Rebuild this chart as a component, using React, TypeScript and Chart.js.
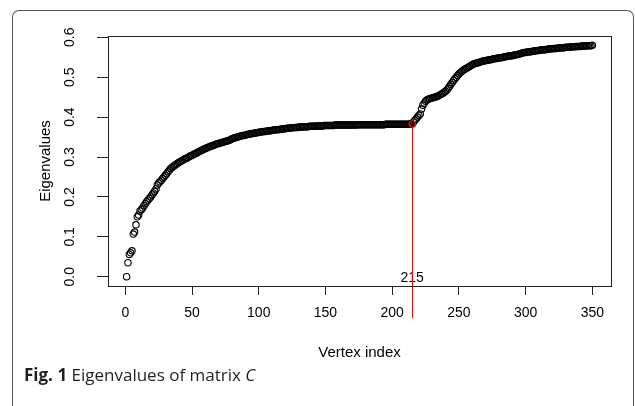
import React, { useEffect, useRef } from "react";
import { Chart, registerables } from "chart.js";

Chart.register(...registerables);

// Eigenvalues of matrix C, sorted ascending (vertex index 1..350)
const eigenvalues: number[] = [
  0.000, 0.035, 0.056, 0.060, 0.065, 0.107, 0.112, 0.130, 0.150, 0.155,
  0.165, 0.168, 0.172, 0.178, 0.183, 0.188, 0.192, 0.196, 0.200, 0.205,
  0.210, 0.214, 0.220, 0.230, 0.235, 0.238, 0.242, 0.246, 0.250, 0.254,
  0.258, 0.263, 0.267, 0.271, 0.274, 0.277, 0.279, 0.281, 0.284, 0.286,
  0.288, 0.290, 0.292, 0.294, 0.296, 0.297, 0.299, 0.301, 0.303, 0.304,
  0.306, 0.308, 0.309, 0.311, 0.313, 0.315, 0.316, 0.318, 0.320, 0.321,
  0.323, 0.324, 0.326, 0.327, 0.328, 0.329, 0.331, 0.332, 0.333, 0.334,
  0.335, 0.336, 0.337, 0.338, 0.339, 0.340, 0.341, 0.342, 0.344, 0.346,
  0.347, 0.348, 0.349, 0.350, 0.351, 0.352, 0.353, 0.354, 0.354, 0.355,
  0.356, 0.357, 0.357, 0.358, 0.359, 0.359, 0.360, 0.361, 0.361, 0.362,
  0.362, 0.363, 0.363, 0.364, 0.364, 0.365, 0.365, 0.366, 0.366, 0.367,
  0.367, 0.368, 0.368, 0.368, 0.369, 0.369, 0.370, 0.370, 0.371, 0.371,
  0.372, 0.372, 0.372, 0.373, 0.373, 0.373, 0.374, 0.374, 0.374, 0.375,
  0.375, 0.375, 0.375, 0.376, 0.376, 0.376, 0.376, 0.377, 0.377, 0.377,
  0.377, 0.377, 0.378, 0.378, 0.378, 0.378, 0.378, 0.378, 0.379, 0.379,
  0.379, 0.379, 0.379, 0.379, 0.379, 0.379, 0.380, 0.380, 0.380, 0.380,
  0.380, 0.380, 0.380, 0.380, 0.380, 0.380, 0.380, 0.380, 0.380, 0.380,
  0.380, 0.380, 0.380, 0.381, 0.381, 0.381, 0.381, 0.381, 0.381, 0.381,
  0.381, 0.381, 0.381, 0.381, 0.381, 0.381, 0.381, 0.381, 0.381, 0.381,
  0.381, 0.381, 0.381, 0.381, 0.382, 0.382, 0.382, 0.382, 0.382, 0.382,
  0.382, 0.382, 0.382, 0.382, 0.382, 0.382, 0.382, 0.382, 0.382, 0.382,
  0.382, 0.382, 0.383, 0.383, 0.383, 0.388, 0.392, 0.396, 0.400, 0.404,
  0.408, 0.420, 0.430, 0.435, 0.440, 0.443, 0.445, 0.446, 0.447, 0.448,
  0.449, 0.450, 0.451, 0.452, 0.454, 0.456, 0.458, 0.460, 0.462, 0.465,
  0.468, 0.472, 0.477, 0.482, 0.487, 0.492, 0.496, 0.500, 0.504, 0.508,
  0.511, 0.514, 0.517, 0.519, 0.521, 0.523, 0.525, 0.527, 0.529, 0.531,
  0.533, 0.534, 0.535, 0.536, 0.537, 0.538, 0.539, 0.540, 0.541, 0.542,
  0.542, 0.543, 0.544, 0.544, 0.545, 0.546, 0.546, 0.547, 0.548, 0.548,
  0.549, 0.549, 0.550, 0.551, 0.551, 0.552, 0.553, 0.553, 0.554, 0.554,
  0.555, 0.556, 0.556, 0.557, 0.558, 0.559, 0.560, 0.561, 0.562, 0.562,
  0.563, 0.563, 0.564, 0.564, 0.565, 0.565, 0.566, 0.566, 0.567, 0.567,
  0.568, 0.568, 0.569, 0.569, 0.569, 0.570, 0.570, 0.571, 0.571, 0.571,
  0.572, 0.572, 0.572, 0.573, 0.573, 0.573, 0.574, 0.574, 0.574, 0.575,
  0.575, 0.575, 0.575, 0.576, 0.576, 0.576, 0.576, 0.577, 0.577, 0.577,
  0.577, 0.578, 0.578, 0.578, 0.578, 0.579, 0.579, 0.579, 0.579, 0.580,
];

const xTicks: number[] = [0, 50, 100, 150, 200, 250, 300, 350];
const yTicks: number[] = [0, 0.1, 0.2, 0.3, 0.4, 0.5, 0.6];
const yTickLabels: string[] = ["0.0", "0.1", "0.2", "0.3", "0.4", "0.5", "0.6"];
const markedVertex = 215;

const xTitle = "Vertex index";
const yTitle = "Eigenvalues";

const FONT = "'Liberation Sans', Arial, Helvetica, sans-serif";

export default function App() {
  const ref = useRef<HTMLCanvasElement>(null);

  useEffect(() => {
    const canvas = ref.current;
    if (!canvas) return;
    const points = eigenvalues.map((v, i) => ({ x: i + 1, y: v }));
    const markValue = eigenvalues[markedVertex - 1];
    const n = eigenvalues.length;
    const ymax = Math.max(...eigenvalues);
    const ymin = Math.min(...eigenvalues);
    const xPad = (n - 1) * 0.04;
    const yPad = (ymax - ymin) * 0.04;

    const framePlugin = {
      id: "rframe",
      beforeDatasetsDraw(chart: any) {
        const { ctx, scales } = chart;
        const x = scales.x.getPixelForValue(markedVertex);
        const y = scales.y.getPixelForValue(0);
        ctx.save();
        ctx.fillStyle = "#000";
        ctx.font = `14px ${FONT}`;
        ctx.textAlign = "center";
        ctx.textBaseline = "middle";
        ctx.fillText(String(markedVertex), x, y + 1);
        ctx.restore();
      },
      afterDatasetsDraw(chart: any) {
        const { ctx, scales, chartArea } = chart;
        const x = Math.round(scales.x.getPixelForValue(markedVertex)) + 0.5;
        const y = scales.y.getPixelForValue(markValue);
        ctx.save();
        ctx.strokeStyle = "#ff0000";
        ctx.lineWidth = 1;
        ctx.beginPath();
        ctx.moveTo(x, y + 3);
        ctx.lineTo(x, chartArea.bottom + 32);
        ctx.stroke();
        ctx.strokeStyle = "#222";
        ctx.strokeRect(
          Math.round(chartArea.left) + 0.5,
          Math.round(chartArea.top) + 0.5,
          Math.round(chartArea.right - chartArea.left),
          Math.round(chartArea.bottom - chartArea.top)
        );
        ctx.restore();
      },
    };

    const chart = new Chart(canvas, {
      type: "scatter",
      data: {
        datasets: [
          {
            label: "marked",
            data: [{ x: markedVertex, y: markValue }],
            pointRadius: 3.2,
            pointBorderWidth: 1.1,
            borderColor: "#ff0000",
            backgroundColor: "rgba(0,0,0,0)",
            order: 0,
          },
          {
            label: "eigenvalues",
            data: points,
            pointRadius: 3.2,
            pointBorderWidth: 1.1,
            borderColor: "#000",
            backgroundColor: "rgba(0,0,0,0)",
            order: 1,
          },
        ],
      },
      options: {
        animation: false,
        responsive: false,
        devicePixelRatio: 1,
        layout: { padding: { top: 36, right: 24, left: 0, bottom: 0 } },
        plugins: {
          legend: { display: false },
          tooltip: { enabled: false },
        },
        scales: {
          x: {
            type: "linear",
            min: 1 - xPad,
            max: n + xPad,
            afterBuildTicks: (s: any) => {
              s.ticks = xTicks.map((v) => ({ value: v }));
            },
            afterFit: (s: any) => {
              s.height = 120;
            },
            grid: {
              drawOnChartArea: false,
              drawTicks: true,
              tickLength: 9,
              color: "#222",
              lineWidth: 1,
            },
            border: { display: true, color: "#222" },
            ticks: {
              padding: 10,
              color: "#000",
              font: { family: FONT, size: 14 },
              maxRotation: 0,
              autoSkip: false,
              callback: (v: any) => String(v),
            },
            title: {
              display: true,
              text: xTitle,
              color: "#000",
              font: { family: FONT, size: 15 },
              padding: { top: 0, bottom: 44 },
            },
          },
          y: {
            type: "linear",
            min: ymin - yPad,
            max: ymax + yPad,
            afterBuildTicks: (s: any) => {
              s.ticks = yTicks.map((v) => ({ value: v }));
            },
            afterFit: (s: any) => {
              s.width = 108;
            },
            grid: {
              drawOnChartArea: false,
              drawTicks: true,
              tickLength: 11,
              color: "#222",
              lineWidth: 1,
            },
            border: { display: true, color: "#222" },
            ticks: {
              padding: 17,
              color: "#000",
              font: { family: FONT, size: 14 },
              minRotation: 90,
              maxRotation: 90,
              crossAlign: "center",
              autoSkip: false,
              callback: (v: any) => {
                const idx = yTicks.findIndex((t) => Math.abs(t - v) < 1e-9);
                return idx >= 0 ? yTickLabels[idx] : "";
              },
            },
            title: {
              display: true,
              text: yTitle,
              color: "#000",
              font: { family: FONT, size: 15 },
              padding: { top: 37, bottom: 0 },
            },
          },
        },
      },
      plugins: [framePlugin],
    } as any);

    return () => chart.destroy();
  }, []);

  return (
    <div
      style={{
        position: "absolute",
        left: 0,
        top: 0,
        width: 635,
        height: 406,
        overflow: "hidden",
        background: "#fff",
      }}
    >
      <div
        style={{
          position: "absolute",
          left: 12,
          top: 10,
          width: 622,
          height: 460,
          borderTop: "1px solid #555",
          borderLeft: "1px solid #555",
          borderRight: "1px solid #555",
          borderTopLeftRadius: 7,
          borderTopRightRadius: 7,
          boxSizing: "border-box",
        }}
      />
      <canvas
        ref={ref}
        width={635}
        height={406}
        style={{ position: "absolute", left: 0, top: 0 }}
      />
      <div
        style={{
          position: "absolute",
          left: 24,
          top: 364,
          fontFamily: "'Open Sans', 'Noto Sans', sans-serif",
          fontSize: 17,
          lineHeight: "22px",
          color: "#231f20",
          whiteSpace: "nowrap",
        }}
      >
        <b>Fig. 1</b> Eigenvalues of matrix <i>C</i>
      </div>
    </div>
  );
}
